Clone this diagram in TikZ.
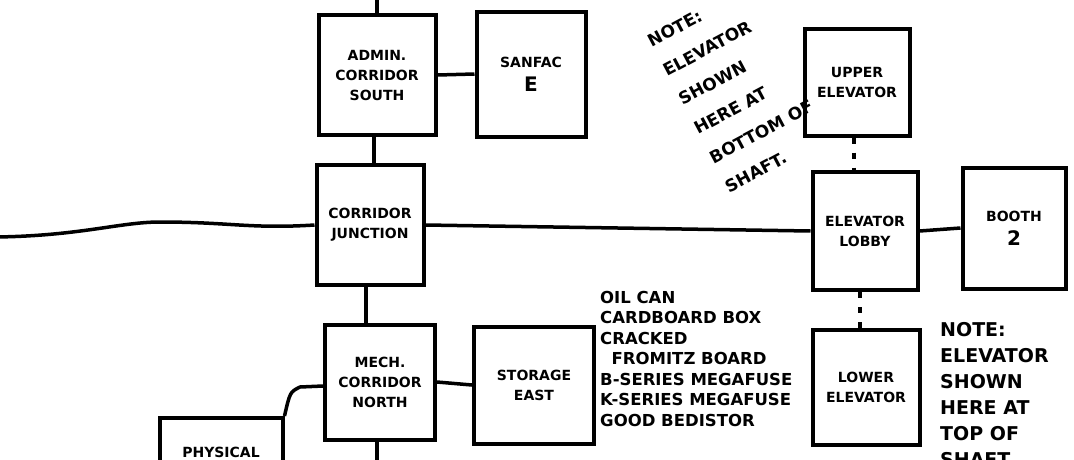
\documentclass[tikz,border=0pt]{standalone}
\usepackage{fontspec}
\setmainfont{DejaVu Sans}
\usetikzlibrary{positioning}

\tikzset{
  room/.style={draw, line width=4pt, align=center, inner sep=2pt,
    font=\bfseries\fontsize{14}{20}\selectfont},
  link/.style={line width=3.5pt},
  shaft/.style={line width=3.5pt, dash pattern=on 6pt off 9pt},
  note/.style={align=left, inner sep=0pt, font=\bfseries\fontsize{19}{26}\selectfont},
  items/.style={align=left, inner sep=0pt, font=\bfseries\fontsize{16.5}{20.5}\selectfont},
}

\begin{document}
\begin{tikzpicture}[x=1pt,y=-1pt]
\useasboundingbox (0,0) rectangle (1074,459);
% rooms
\node [room, minimum width=117pt, minimum height=120pt] (admin) at (377,75) {ADMIN.\\CORRIDOR\\SOUTH};
\node [room, minimum width=109pt, minimum height=125pt] (sanfac) at (531,74) {SANFAC\\[4pt]{\fontsize{20}{20}\selectfont E}};
\node [room, minimum width=107pt, minimum height=120pt] (junction) at (370,225) {CORRIDOR\\JUNCTION};
\node [room, minimum width=105pt, minimum height=118pt] (lobby) at (865,231) {ELEVATOR\\LOBBY};
\node [room, minimum width=103pt, minimum height=121pt] (booth) at (1014,228) {BOOTH\\[4pt]{\fontsize{20}{20}\selectfont 2}};
\node [room, minimum width=105pt, minimum height=107pt] (upper) at (857,82) {UPPER\\ELEVATOR};
\node [room, minimum width=107pt, minimum height=115pt] (lower) at (866,387) {LOWER\\ELEVATOR};
\node [room, minimum width=110pt, minimum height=115pt] (mech) at (380,382) {MECH.\\CORRIDOR\\NORTH};
\node [room, minimum width=120pt, minimum height=117pt] (storage) at (534,385) {STORAGE\\EAST};
\node [room, minimum width=123pt, minimum height=120pt] (physical) at (221,478) {};
\node [room, draw=none, anchor=north] (physicaltxt) at ([yshift=-27pt]physical.north) {PHYSICAL};
% exits
\coordinate (northexit) at (0,-5);
\coordinate (westexit) at (-5,237);
\coordinate (southexit) at (0,465);
\coordinate (bend) at (300,387);
% connectors
\draw [link] (admin.north) -- (admin.north |- northexit);
\draw [link] (admin.east) -- (sanfac.west);
\draw [link] ([xshift=-3pt]admin.south) -- ([xshift=-3pt]admin.south |- junction.north);
\draw [link] (westexit) .. controls (80,236) and (120,222) .. (160,222) .. controls (230,222) and (250,229) .. (junction.west);
\draw [link] (junction.east) -- (lobby.west);
\draw [link] (lobby.east) -- (booth.west);
\draw [shaft] ([xshift=-3pt]upper.south) -- ([xshift=-3pt]upper.south |- lobby.north);
\draw [shaft] ([xshift=-5pt]lobby.south) -- ([xshift=-5pt]lobby.south |- lower.north);
\draw [link] ([xshift=-4pt]junction.south) -- ([xshift=-4pt]junction.south |- mech.north);
\draw [link] ([xshift=-3pt]mech.south) -- ([xshift=-3pt]mech.south |- southexit);
\draw [link] (mech.east) -- (storage.west);
\draw [link] ([yshift=-4pt]mech.west) -- (bend) .. controls (290,392) .. (physical.north east);
% notes
\node [note, rotate=28, font=\bfseries\fontsize{17}{33}\selectfont] (topnote) at (738,88) {NOTE:\\ELEVATOR\\SHOWN\\HERE AT\\BOTTOM OF\\SHAFT.};
\node [note, anchor=north west] (botnote) at (940,322) {NOTE:\\ELEVATOR\\SHOWN\\HERE AT\\TOP OF\\SHAFT};
\node [items, anchor=north west] (stuff) at (600,291) {OIL CAN\\CARDBOARD BOX\\CRACKED\\\ \ FROMITZ BOARD\\B-SERIES MEGAFUSE\\K-SERIES MEGAFUSE\\GOOD BEDISTOR};
\end{tikzpicture}
\end{document}
